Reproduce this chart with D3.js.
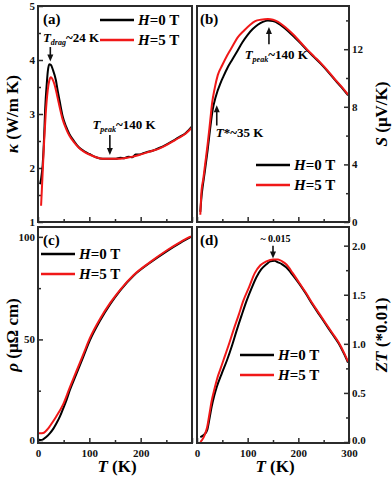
<!DOCTYPE html>
<html>
<head>
<meta charset="utf-8">
<script src="https://cdn.jsdelivr.net/npm/d3@7"></script>
<style>
  body { margin: 0; background: #fff; }
  svg { display: block; font-family: "Liberation Serif", "Times New Roman", serif; font-weight: bold; }
</style>
</head>
<body>
<script>
// ---- data ------------------------------------------------------
// (a) thermal conductivity kappa (W/m K)
var kT0 = [4, 6, 9, 12, 14, 17, 19, 22, 25, 29, 35, 38, 42, 48, 55, 61, 70, 80, 90, 100, 113, 126, 140, 152, 160, 168, 176, 184, 190, 197, 204, 210, 223, 236, 249, 262, 275, 288, 300];
var kappa0 = [1.70, 1.80, 2.05, 2.6, 3.1, 3.55, 3.78, 3.92, 3.91, 3.82, 3.62, 3.45, 3.25, 2.96, 2.76, 2.63, 2.50, 2.38, 2.31, 2.26, 2.20, 2.17, 2.17, 2.17, 2.19, 2.18, 2.21, 2.20, 2.25, 2.25, 2.27, 2.29, 2.32, 2.37, 2.43, 2.50, 2.57, 2.65, 2.77];
var kT5 = [6, 9, 12, 15, 19, 22, 25, 28, 32, 35, 40, 48, 55, 61, 70, 80, 90, 100, 113, 126, 140, 152, 168, 184, 197, 210, 223, 236, 249, 262, 275, 288, 300];
var kappa5 = [1.30, 1.9, 2.5, 3.0, 3.44, 3.62, 3.68, 3.65, 3.55, 3.44, 3.22, 2.90, 2.72, 2.60, 2.48, 2.37, 2.30, 2.25, 2.20, 2.17, 2.17, 2.17, 2.18, 2.21, 2.24, 2.28, 2.32, 2.36, 2.42, 2.49, 2.56, 2.64, 2.75];

// (b) thermopower S (uV/K)
var sT0 = [6.5, 9, 11, 15, 21, 26, 31, 37, 47, 52, 60, 70, 80, 90, 100, 110, 120, 130, 140, 150, 160, 170, 180, 192, 205, 218, 231, 244, 257, 270, 284, 298];
var s0 = [0.7, 1.8, 2.4, 3.4, 5.0, 6.5, 7.8, 8.7, 9.7, 10.1, 10.7, 11.3, 11.9, 12.5, 13.0, 13.4, 13.7, 13.9, 14.0, 13.95, 13.8, 13.55, 13.25, 12.85, 12.4, 11.9, 11.45, 11.0, 10.5, 9.96, 9.4, 8.8];
var sT5 = [6.5, 9, 12, 16, 21, 26, 30, 35, 41, 50, 60, 70, 80, 93, 105, 115, 126, 140, 150, 160, 170, 180, 192, 205, 218, 231, 244, 257, 270, 284, 298];
var s5 = [0.5, 2.2, 2.9, 4.0, 5.4, 7.0, 8.3, 9.3, 10.2, 10.9, 11.6, 12.2, 12.8, 13.3, 13.7, 13.95, 14.05, 14.1, 14.05, 13.9, 13.65, 13.35, 12.95, 12.45, 11.95, 11.5, 11.05, 10.55, 10.0, 9.45, 8.85];

// (c) resistivity rho (uOhm cm)
var rT0 = [0, 5, 10, 16, 23, 30, 36, 43, 49, 56, 62, 75, 88, 101, 121, 141, 160, 186, 219, 252, 278, 298];
var rho0 = [1.0, 1.0, 1.3, 2.4, 4.2, 6.5, 9.1, 12.6, 16.3, 20.8, 25.2, 33.3, 41.4, 49.5, 59.2, 67.3, 73.8, 81.0, 87.5, 93.2, 97.2, 100];
var rT5 = [0, 5, 10, 14, 20, 25, 35, 49, 62, 75, 88, 101, 121, 141, 160, 186, 219, 252, 278, 298];
var rho5 = [4.3, 4.3, 4.4, 5.0, 6.6, 8.4, 12.2, 18.3, 26.6, 34.6, 42.6, 50.6, 60.1, 67.9, 74.2, 81.3, 87.8, 93.6, 97.6, 100.2];

// (d) figure of merit ZT (*0.01)
var zT0 = [6.5, 10, 15, 20, 25, 29, 34, 39, 49, 59, 69, 78.5, 88, 98, 108, 117.5, 127, 137, 145, 153, 160, 168, 176, 189, 202, 215, 228, 241, 254, 267, 280, 290, 298];
var zt0 = [0.05, 0.06, 0.08, 0.12, 0.25, 0.36, 0.47, 0.56, 0.70, 0.83, 0.98, 1.14, 1.29, 1.44, 1.57, 1.68, 1.76, 1.81, 1.84, 1.845, 1.83, 1.81, 1.78, 1.70, 1.61, 1.51, 1.40, 1.30, 1.20, 1.10, 1.00, 0.90, 0.81];
var zT5 = [6.5, 10, 15, 20, 25, 29, 34, 40, 46, 52, 62, 72, 82, 91.5, 103, 114, 125, 137, 150, 160, 168, 176, 189, 202, 215, 228, 241, 254, 267, 280, 290, 298];
var zt5 = [0.0, 0.02, 0.07, 0.15, 0.30, 0.42, 0.53, 0.65, 0.74, 0.83, 0.98, 1.14, 1.29, 1.44, 1.58, 1.72, 1.80, 1.84, 1.86, 1.86, 1.84, 1.81, 1.72, 1.62, 1.52, 1.41, 1.31, 1.21, 1.11, 1.01, 0.91, 0.82];

var legendLabels = ['0', '5'];
var xTickLabels = [0, 100, 200, 300];

// ---- layout -----------------------------------------------------
var W = 392, H = 477;
var col = [[38, 192], [197, 349]];
var row = [[6, 222], [227, 443]];
var black = '#000', red = '#f01818', frame = '#2b2b2b';

var svg = d3.select('body').append('svg')
  .attr('width', W)
  .attr('height', H);

var zip = function(xs, ys) {
  return xs.map(function(x, i) { return [x, ys[i]]; });
};

var drawPanel = function(p) {
  var x = d3.scaleLinear().domain([0, 300]).range(col[p.c]);
  var y = d3.scaleLinear().domain(p.yDomain).range([row[p.r][1], row[p.r][0]]);
  var g = svg.append('g');

  // bottom ticks, pointing inward
  var xMajor = d3.axisBottom(x).tickValues(xTickLabels).tickSize(-5).tickPadding(6);
  if (p.xLabels) {
    xMajor.tickFormat(function(d) { return (p.c === 0 && d === 300) ? '' : d; });
  } else {
    xMajor.tickFormat('');
  }
  g.append('g').attr('transform', 'translate(0,' + row[p.r][1] + ')').call(xMajor);
  g.append('g').attr('transform', 'translate(0,' + row[p.r][1] + ')')
    .call(d3.axisBottom(x).tickValues([50, 150, 250]).tickSize(-3).tickFormat(''));

  // value axis, left or right, ticks inward
  var yAxisX = p.side === 'left' ? col[p.c][0] : col[p.c][1];
  var yMajor = (p.side === 'left' ? d3.axisLeft(y).tickSize(-5) : d3.axisRight(y).tickSize(-5))
    .tickValues(p.yTicks).tickPadding(3).tickFormat(p.yFmt);
  var ay = g.append('g').attr('class', 'yaxis').attr('transform', 'translate(' + yAxisX + ',0)').call(yMajor);
  g.append('g').attr('transform', 'translate(' + yAxisX + ',0)')
    .call((p.side === 'left' ? d3.axisLeft(y) : d3.axisRight(y))
      .tickValues(p.yMinor).tickSize(-3).tickFormat(''));

  g.selectAll('.domain').remove();
  g.selectAll('.tick line').attr('stroke', frame).attr('stroke-width', 1.5);
  g.selectAll('.tick text').attr('fill', '#111').style('font-size', '11px')
    .style('font-family', '"Liberation Serif", serif').style('font-weight', 'bold');
  // lowest value label sits a little higher, clear of the T labels
  if (p.xLabels) {
    ay.selectAll('.tick text').filter(function(d) { return d === p.yTicks[0]; }).attr('dy', '0.1em');
  }

  // curves
  var line = d3.line()
    .x(function(d) { return x(d[0]); })
    .y(function(d) { return y(d[1]); })
    .curve(d3.curveMonotoneX);
  g.append('path').datum(zip(p.t0, p.v0))
    .attr('d', line).attr('fill', 'none').attr('stroke', black).attr('stroke-width', 2);
  g.append('path').datum(zip(p.t5, p.v5))
    .attr('d', line).attr('fill', 'none').attr('stroke', red).attr('stroke-width', 2);

  // frame
  g.append('rect')
    .attr('x', col[p.c][0]).attr('y', row[p.r][0])
    .attr('width', col[p.c][1] - col[p.c][0]).attr('height', row[p.r][1] - row[p.r][0])
    .attr('fill', 'none').attr('stroke', frame).attr('stroke-width', 2);

  // panel tag
  g.append('text').attr('x', col[p.c][0] + (p.c === 0 ? 5 : 3)).attr('y', row[p.r][0] + 18)
    .style('font-size', '15px').text(p.tag);

  // legend
  legendLabels.forEach(function(h, i) {
    var lx = p.legend[0], ly = p.legend[1] + i * 20;
    g.append('line').attr('x1', lx).attr('x2', lx + 34).attr('y1', ly).attr('y2', ly)
      .attr('stroke', i === 0 ? black : red).attr('stroke-width', 2.5);
    var t = g.append('text').attr('x', lx + 38).attr('y', ly + 5).style('font-size', '15px');
    t.append('tspan').style('font-style', 'italic').text('H');
    t.append('tspan').text('=' + h + ' T');
  });

  // value-axis title
  var tx = p.side === 'left' ? 12 : 381;
  var ty = (row[p.r][0] + row[p.r][1]) / 2;
  var title = g.append('text')
    .attr('transform', 'translate(' + tx + ',' + ty + ') rotate(-90)')
    .attr('text-anchor', 'middle').attr('dy', '0.35em').style('font-size', '17px');
  p.yTitle.forEach(function(part) {
    var s = title.append('tspan').text(part[0]);
    if (part[1]) s.style('font-style', 'italic');
  });

  if (p.xLabels) {
    var xt = g.append('text').attr('x', (col[p.c][0] + col[p.c][1]) / 2 + 2).attr('y', 472)
      .attr('text-anchor', 'middle').style('font-size', '17px');
    xt.append('tspan').style('font-style', 'italic').text('T');
    xt.append('tspan').text(' (K)');
  }

  // annotations
  (p.notes || []).forEach(function(n) {
    var t = g.append('text').attr('x', x(n.tx)).attr('y', y(n.ty))
      .attr('text-anchor', n.anchor || 'start').style('font-size', (n.size || 13) + 'px');
    t.append('tspan').style('font-style', 'italic').text(n.it);
    if (n.sub) t.append('tspan').attr('dy', 3).style('font-size', '8px').style('font-style', 'italic').text(n.sub);
    t.append('tspan').attr('dy', n.sub ? -3 : 0).text(n.rest);
    var ax1 = x(n.ax), y1 = y(n.from), y2 = y(n.to);
    var dir = y2 > y1 ? 1 : -1;
    g.append('line').attr('x1', ax1).attr('x2', ax1).attr('y1', y1).attr('y2', y2 - dir * 5)
      .attr('stroke', '#111').attr('stroke-width', 1.6);
    g.append('path')
      .attr('d', 'M' + (ax1 - 3) + ',' + (y2 - dir * 7) + 'L' + (ax1 + 3) + ',' + (y2 - dir * 7) + 'L' + ax1 + ',' + y2 + 'Z')
      .attr('fill', '#111');
  });
};

drawPanel({
  c: 0, r: 0, tag: '(a)', side: 'left',
  yDomain: [1, 5], yTicks: [1, 2, 3, 4, 5], yMinor: [1.5, 2.5, 3.5, 4.5], yFmt: d3.format('d'),
  t0: kT0, v0: kappa0, t5: kT5, v5: kappa5,
  legend: [100, 20],
  yTitle: [['κ', true], [' (W/m K)', false]],
  notes: [
    { it: 'T', sub: 'drag', rest: '~24 K', tx: 9.5, ty: 4.33, ax: 24, from: 4.24, to: 3.97 },
    { it: 'T', sub: 'peak', rest: '~140 K', tx: 106, ty: 2.72, ax: 140, from: 2.61, to: 2.24 }
  ]
});

drawPanel({
  c: 1, r: 0, tag: '(b)', side: 'right',
  yDomain: [0, 15], yTicks: [0, 4, 8, 12], yMinor: [2, 6, 10, 14], yFmt: d3.format('d'),
  t0: sT0, v0: s0, t5: sT5, v5: s5,
  legend: [256, 165],
  yTitle: [['S', true], [' (μV/K)', false]],
  notes: [
    { it: 'T', sub: 'peak', rest: '~140 K', tx: 94, ty: 11.35, ax: 142, from: 12.35, to: 13.55 },
    { it: 'T', rest: '*~35 K', tx: 37, ty: 5.9, ax: 39, from: 6.7, to: 8.1 }
  ]
});

drawPanel({
  c: 0, r: 1, tag: '(c)', side: 'left', xLabels: true,
  yDomain: [-0.5, 104.8], yTicks: [0, 50, 100], yMinor: [25, 75], yFmt: d3.format('d'),
  t0: rT0, v0: rho0, t5: rT5, v5: rho5,
  legend: [41, 254],
  yTitle: [['ρ', true], [' (μΩ cm)', false]]
});

drawPanel({
  c: 1, r: 1, tag: '(d)', side: 'right', xLabels: true,
  yDomain: [-0.01, 2.19], yTicks: [0, 0.5, 1, 1.5, 2], yMinor: [0.25, 0.75, 1.25, 1.75], yFmt: d3.format('.1f'),
  t0: zT0, v0: zt0, t5: zT5, v5: zt5,
  legend: [240, 355],
  yTitle: [['ZT', true], [' (*0.01)', false]],
  notes: [
    { it: '', rest: '~ 0.015', tx: 155, ty: 2.04, anchor: 'middle', size: 10, ax: 150, from: 2.0, to: 1.87 }
  ]
});
</script>
</body>
</html>
